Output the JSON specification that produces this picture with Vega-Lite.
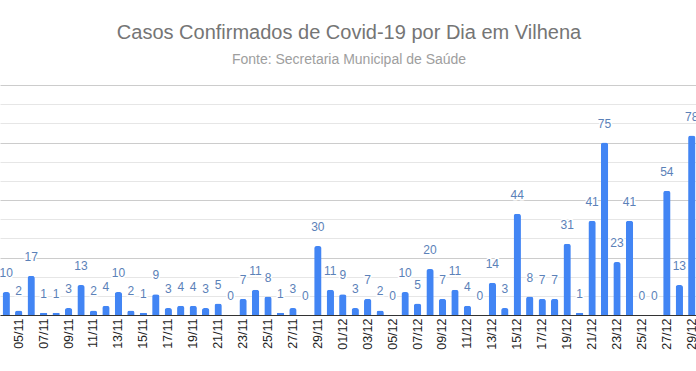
{
  "$schema": "https://vega.github.io/schema/vega-lite/v6.json",
  "width": 698,
  "height": 230,
  "autosize": "none",
  "padding": {"top": 85, "left": 0, "right": 0, "bottom": 56},
  "background": "white",
  "title": {
    "text": "Casos Confirmados de Covid-19 por Dia em Vilhena",
    "subtitle": "Fonte: Secretaria Municipal de Saúde",
    "anchor": "middle",
    "font": "Liberation Sans",
    "fontSize": 20,
    "fontWeight": "normal",
    "color": "#757575",
    "subtitleFont": "Liberation Sans",
    "subtitleFontSize": 14,
    "subtitleColor": "#9e9e9e",
    "subtitlePadding": 10,
    "offset": 18
  },
  "config": {
    "view": {"stroke": null},
    "font": "Liberation Sans"
  },
  "data": {
    "values": [
      {"dia": "04/11", "casos": 10},
      {"dia": "05/11", "casos": 2},
      {"dia": "06/11", "casos": 17},
      {"dia": "07/11", "casos": 1},
      {"dia": "08/11", "casos": 1},
      {"dia": "09/11", "casos": 3},
      {"dia": "10/11", "casos": 13},
      {"dia": "11/11", "casos": 2},
      {"dia": "12/11", "casos": 4},
      {"dia": "13/11", "casos": 10},
      {"dia": "14/11", "casos": 2},
      {"dia": "15/11", "casos": 1},
      {"dia": "16/11", "casos": 9},
      {"dia": "17/11", "casos": 3},
      {"dia": "18/11", "casos": 4},
      {"dia": "19/11", "casos": 4},
      {"dia": "20/11", "casos": 3},
      {"dia": "21/11", "casos": 5},
      {"dia": "22/11", "casos": 0},
      {"dia": "23/11", "casos": 7},
      {"dia": "24/11", "casos": 11},
      {"dia": "25/11", "casos": 8},
      {"dia": "26/11", "casos": 1},
      {"dia": "27/11", "casos": 3},
      {"dia": "28/11", "casos": 0},
      {"dia": "29/11", "casos": 30},
      {"dia": "30/11", "casos": 11},
      {"dia": "01/12", "casos": 9},
      {"dia": "02/12", "casos": 3},
      {"dia": "03/12", "casos": 7},
      {"dia": "04/12", "casos": 2},
      {"dia": "05/12", "casos": 0},
      {"dia": "06/12", "casos": 10},
      {"dia": "07/12", "casos": 5},
      {"dia": "08/12", "casos": 20},
      {"dia": "09/12", "casos": 7},
      {"dia": "10/12", "casos": 11},
      {"dia": "11/12", "casos": 4},
      {"dia": "12/12", "casos": 0},
      {"dia": "13/12", "casos": 14},
      {"dia": "14/12", "casos": 3},
      {"dia": "15/12", "casos": 44},
      {"dia": "16/12", "casos": 8},
      {"dia": "17/12", "casos": 7},
      {"dia": "18/12", "casos": 7},
      {"dia": "19/12", "casos": 31},
      {"dia": "20/12", "casos": 1},
      {"dia": "21/12", "casos": 41},
      {"dia": "22/12", "casos": 75},
      {"dia": "23/12", "casos": 23},
      {"dia": "24/12", "casos": 41},
      {"dia": "25/12", "casos": 0},
      {"dia": "26/12", "casos": 0},
      {"dia": "27/12", "casos": 54},
      {"dia": "28/12", "casos": 13},
      {"dia": "29/12", "casos": 78}
    ]
  },
  "encoding": {
    "x": {
      "field": "dia",
      "type": "ordinal",
      "sort": null,
      "scale": {"paddingInner": 0.41, "paddingOuter": 0.205},
      "axis": {
        "title": null,
        "values": ["05/11","07/11","09/11","11/11","13/11","15/11","17/11","19/11","21/11","23/11","25/11","27/11","29/11","01/12","03/12","05/12","07/12","09/12","11/12","13/12","15/12","17/12","19/12","21/12","23/12","25/12","27/12","29/12"],
        "labelAngle": -90,
        "labelFont": "Liberation Sans",
        "labelFontSize": 12.5,
        "labelColor": "#222222",
        "labelPadding": 3,
        "ticks": false,
        "domainColor": "#333333",
        "domainWidth": 1,
        "grid": false
      }
    },
    "y": {
      "field": "casos",
      "type": "quantitative",
      "scale": {"domain": [0, 100], "nice": false},
      "axis": {
        "title": null,
        "labels": false,
        "ticks": false,
        "domain": false,
        "grid": true,
        "values": [0, 8.3333, 16.6667, 25, 33.3333, 41.6667, 50, 58.3333, 66.6667, 75, 83.3333, 91.6667, 100],
        "gridColor": {"condition": {"test": "abs(datum.value / 25 - round(datum.value / 25)) < 0.01", "value": "#cccccc"}, "value": "#e6e6e6"},
        "gridWidth": 1
      }
    }
  },
  "layer": [
    {
      "mark": {"type": "bar", "color": "#4285f4", "cornerRadiusTopLeft": 2.5, "cornerRadiusTopRight": 2.5}
    },
    {
      "mark": {"type": "text", "baseline": "alphabetic", "dy": -15, "fontSize": 12, "font": "Liberation Sans", "stroke": "white", "strokeWidth": 3, "fill": "white"},
      "encoding": {"text": {"field": "casos", "type": "quantitative"}}
    },
    {
      "mark": {"type": "text", "baseline": "alphabetic", "dy": -15, "fontSize": 12, "font": "Liberation Sans", "color": "#5b81b8"},
      "encoding": {"text": {"field": "casos", "type": "quantitative"}}
    }
  ]
}
